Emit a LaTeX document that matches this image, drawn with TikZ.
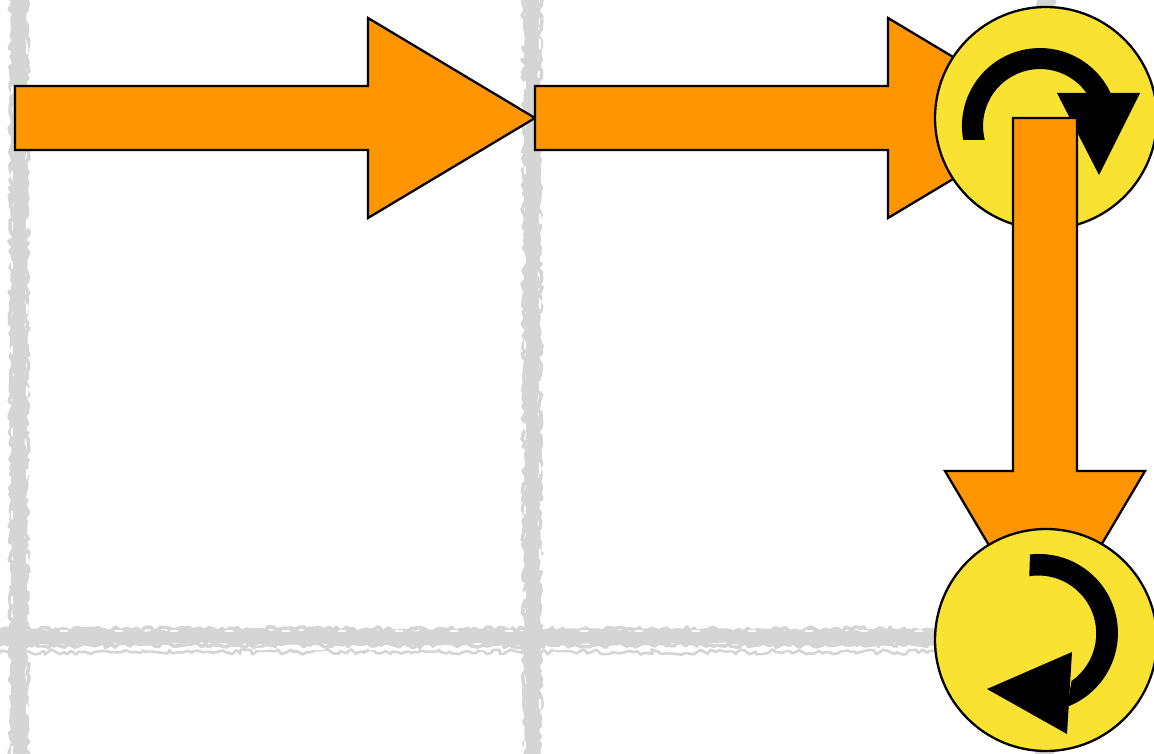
\documentclass[tikz,border=0pt]{standalone}
\usetikzlibrary{decorations.pathmorphing}
\definecolor{gridgrey}{HTML}{D5D5D5}
\definecolor{arroworange}{HTML}{FF9500}
\definecolor{discyellow}{HTML}{FAE232}
\tikzset{
  rougha/.style={draw=gridgrey,line join=round,line cap=round,line width=14pt,decorate,decoration={random steps,segment length=6pt,amplitude=1.8pt}},
  roughb/.style={draw=gridgrey,line join=round,line cap=round,line width=3.6pt,decorate,decoration={random steps,segment length=4pt,amplitude=2.6pt}},
  fleck/.style={fill=white,draw=none},
  bigarrow/.style={draw=black,fill=arroworange,line width=2.3pt,line join=miter},
  disc/.style={circle,draw=black,fill=discyellow,line width=2.3pt,minimum size=222pt,inner sep=0pt},
  turn/.style={fill=black,draw=none}
}
\begin{document}
\begin{tikzpicture}[x=1pt,y=-1pt]
\useasboundingbox (0,0) rectangle (1154,754);
\fill[white] (0,0) rectangle (1154,754);
\pgfmathsetseed{4242}
\begin{scope}
\clip (0,0) rectangle (1154,754);
% rough background grid
\foreach \gx in {19,532,1045}{
  \draw[rougha] (\gx,-6) -- (\gx,760);
  \draw[roughb] (\gx-7.5,-6) -- (\gx-7.5,760);
  \draw[roughb] (\gx+7.5,-6) -- (\gx+7.5,760);
  \foreach \fy in {30,115,205,290,372,455,540,690}{
    \pgfmathsetmacro{\fa}{\fy+mod(\gx,37)}
    \fill[fleck] (\gx+8,\fa) ellipse[x radius=1.1pt,y radius=6pt];
    \fill[fleck] (\gx-7,\fa+41) ellipse[x radius=1pt,y radius=5pt];
  }
}
\draw[rougha] (-6,637) -- (1160,637);
\draw[roughb] (-6,629.5) -- (1160,629.5);
\draw[roughb] (-6,645) -- (1160,645);
\draw[roughb,line width=2.6pt] (-6,652) -- (1160,652);
\foreach \fx in {40,95,150,205,262,318,375,430,485,560,615,672,728,785,840,895}{
  \fill[fleck] (\fx,649) ellipse[x radius=7pt,y radius=1.3pt];
  \fill[fleck] (\fx+24,631) ellipse[x radius=5pt,y radius=1pt];
}
\end{scope}
% first arrow
\draw[bigarrow] (15,86) -- (368,86) -- (368,18) -- (535,118) -- (368,218) -- (368,150) -- (15,150) -- cycle;
% second arrow
\draw[bigarrow] (535,86) -- (888,86) -- (888,18) -- (1055,118) -- (888,218) -- (888,150) -- (535,150) -- cycle;
% upper disc and turn symbol
\node[disc] (upper) at (1046,118) {};
\fill[turn] (963.2,140) arc[start angle=190.3,end angle=25,radius=78pt]
  -- (1086.5,93) arc[start angle=35.4,end angle=194.2,radius=57pt] -- cycle;
\fill[turn] (1057,93) -- (1140,93) -- (1099,175) -- cycle;
% down arrow
\draw[bigarrow] (1013,118) -- (1077,118) -- (1077,471) -- (1145,471) -- (1045,640) -- (945,471) -- (1013,471) -- cycle;
% lower disc and turn symbol
\node[disc] (lower) at (1046,640) {};
\fill[turn] (1030,554.5) arc[start angle=96.5,end angle=-69,radius=79pt]
  -- (1071.5,681) arc[start angle=-55,end angle=98.9,radius=58pt] -- cycle;
\fill[turn] (1072,652) -- (987,689) -- (1067,734) -- cycle;
\end{tikzpicture}
\end{document}
